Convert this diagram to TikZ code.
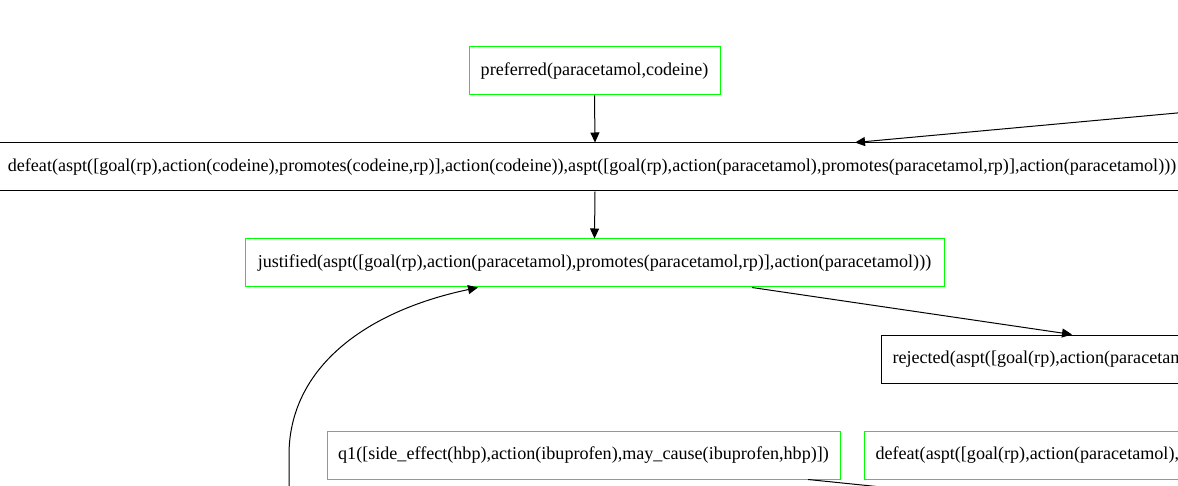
\documentclass[tikz,border=0pt]{standalone}
\usepackage{fontspec}
\setmainfont{Liberation Serif}
\usetikzlibrary{arrows.meta}
\definecolor{gvgreen}{RGB}{0,255,0}
\tikzset{
  lbl/.style={font=\fontsize{18.1}{20}\selectfont, minimum height=48pt, inner sep=0pt, line width=1pt},
  gbox/.style={lbl, draw=gvgreen},
  kbox/.style={lbl, draw=black},
  edge/.style={draw=black, line width=1pt, -{Triangle[length=10pt,width=9pt]}},
  plain/.style={draw=black, line width=1pt}
}
\begin{document}
\begin{tikzpicture}[x=1pt,y=-1pt]
\useasboundingbox (0,0) rectangle (1178,486);
\clip (0,0) rectangle (1178,486);
\node[gbox, minimum width=251pt] (pref) at (594.5,71) {preferred(paracetamol,codeine)};
\node[kbox, minimum width=1198pt] (def1) at (592,167) {defeat(aspt([goal(rp),action(codeine),promotes(codeine,rp)],action(codeine)),aspt([goal(rp),action(paracetamol),promotes(paracetamol,rp)],action(paracetamol)))};
\node[gbox, minimum width=699pt] (just) at (594.5,263) {justified(aspt([goal(rp),action(paracetamol),promotes(paracetamol,rp)],action(paracetamol)))};
\node[kbox, anchor=west, inner xsep=11pt] (rej) at (881,359) {rejected(aspt([goal(rp),action(paracetamol),promotes(paracetamol,rp)],action(paracetamol)))};
\node[gbox, minimum width=513pt] (q1) at (583.5,455) {q1([side\_effect(hbp),action(ibuprofen),may\_cause(ibuprofen,hbp)])};
\node[gbox, anchor=west, inner xsep=11pt] (def2) at (864,455) {defeat(aspt([goal(rp),action(paracetamol),promotes(paracetamol,rp)],action(paracetamol)),aspt([goal(rp),action(ibuprofen),promotes(ibuprofen,rp)],action(ibuprofen)))};
\coordinate (src1) at (1260,105.4);
\coordinate (src2) at (289,520);
\coordinate (dst3) at (950,494);
\draw[edge] (pref.south) -- ([xshift=3pt]def1.north);
\draw[edge] (src1) -- ([xshift=263pt]def1.north);
\draw[edge] ([xshift=3pt]def1.south) -- (just.north);
\draw[edge] ([xshift=157.5pt]just.south) -- ([xshift=191pt]rej.north west);
\draw[edge] (src2) -- (289,455) .. controls (289,370) and (362,312) .. ([xshift=-116.5pt]just.south);
\draw[plain] ([xshift=224.5pt]q1.south) -- (dst3);
\end{tikzpicture}
\end{document}
